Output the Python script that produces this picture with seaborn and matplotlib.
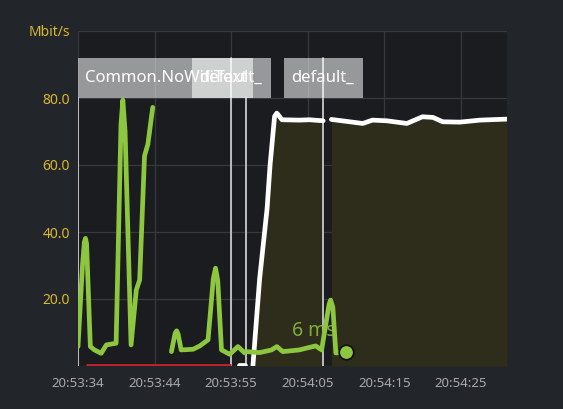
import numpy as np
import pandas as pd
import matplotlib
matplotlib.use("Agg")
import matplotlib.pyplot as plt
import seaborn as sns

# ---- data (seconds since 20:53:34) ----
green_seg = [0] * 18 + [1] * 27
green_t = [0, 0.6, 0.85, 1.0, 1.15, 1.65, 2.2, 3.1, 3.8, 5.1, 5.75, 6.0, 6.3, 7.1, 7.8, 8.25, 8.9, 9.35,
           10.0,
           12.5, 13.0, 13.2, 13.4, 13.8, 15.4, 16.3, 17.4, 18.1, 18.4, 18.7, 19.2, 20.3, 21.4, 22.3, 22.5,
           24.3, 25.9, 26.6, 27.4, 29.6, 31.8, 32.6, 33.6, 33.8, 34.1, 34.5, 35.8]
green_v = [5.8, 30.0, 37.0, 38.1, 36.5, 5.8, 4.8, 3.8, 6.3, 6.8, 72.0, 79.4, 70.0, 6.3, 22.7, 25.7, 62.7, 66.2,
           77.2,
           4.3, 9.8, 10.5, 9.5, 4.8, 5.0, 6.0, 7.8, 26.0, 29.2, 25.5, 4.8, 3.5, 5.8, 3.9, 4.3,
           4.0, 4.8, 5.8, 4.3, 4.8, 6.0, 4.8, 18.5, 19.7, 17.5, 3.9, 4.1]
green_seg = [0] * 19 + [1] * (len(green_t) - 19)

white_t = [21.5, 22.4,
           23.4, 24.3, 25.3, 25.7, 26.3, 26.6, 27.3, 29.6, 31.0, 32.8,
           33.9, 36.0, 38.1, 39.4, 41.3, 44.0, 46.1, 47.5, 48.8, 51.1, 53.8, 57.4]
white_v = [0.3, 0.3,
           0.0, 26.0, 47.0, 60.0, 74.5, 75.5, 73.5, 73.4, 73.5, 73.2,
           73.6, 73.0, 72.4, 73.4, 73.2, 72.4, 74.4, 74.2, 72.9, 72.8, 73.4, 73.7]
white_seg = [0] * 2 + [1] * 10 + [2] * 12

red_t = [1.05, 20.5]
red_v = [0.0, 0.0]

event_t = [0.0, 20.5, 22.5, 32.8]
event_top = [80, 92, 80, 92]

labels = ["Common.NoWifiText", "default_", "default_"]
label_left = [0.0, 15.2, 27.5]
label_right = [23.4, 25.8, 38.1]

tick_pos = [0, 10.25, 20.5, 30.75, 41.0, 51.25]
tick_labels = ["20:53:34", "20:53:44", "20:53:55", "20:54:05", "20:54:15", "20:54:25"]
ytick_pos = [0, 20, 40, 60, 80, 100]
ytick_labels = ["", "20.0", "40.0", "60.0", "80.0", "Mbit/s"]

latency_text = "6 ms"
last_t, last_v = green_t[-1], green_v[-1]

# ---- style ----
sns.set_theme(style="dark")
plt.rcParams["font.family"] = ["Noto Sans", "DejaVu Sans"]

BG = "#22252a"
AXBG = "#1b1c1f"
GREEN = "#8dc63f"
FILL = "#2e2c1b"
GRID = "#37393d"

fig = plt.figure(figsize=(5.63, 4.09), dpi=100, facecolor=BG)
ax = fig.add_axes([78 / 563, 1 - 366 / 409, (507 - 78) / 563, (366 - 31) / 409])
ax.set_facecolor(AXBG)

gdf = pd.DataFrame({"t": green_t, "v": green_v, "seg": green_seg})
wdf = pd.DataFrame({"t": white_t, "v": white_v, "seg": white_seg})

# fill under throughput (main segments)
for sid, part in wdf.groupby("seg"):
    if sid == 0:
        continue
    ax.fill_between(part["t"], 0, part["v"], color=FILL, lw=0, zorder=1)

# event lines
for t, top in zip(event_t, event_top):
    ax.plot([t, t], [0, top], color="#c9c9c9", lw=1.3, zorder=2)

# red segment
ax.plot(red_t, red_v, color="#c4212b", lw=3.5, zorder=3, solid_capstyle="butt")

# latency label
ax.text(31.6, 10.3, latency_text, color=GREEN, alpha=0.85, fontsize=14,
        ha="center", va="center", zorder=3)

# lines via seaborn
sns.lineplot(data=wdf, x="t", y="v", units="seg", ax=ax, color="white", lw=3.4,
             zorder=4, estimator=None, sort=False,
             solid_joinstyle="round", solid_capstyle="round")
sns.lineplot(data=gdf, x="t", y="v", units="seg", ax=ax, color=GREEN, lw=3.4,
             zorder=5, estimator=None, sort=False,
             solid_joinstyle="round", solid_capstyle="round")
ax.plot([last_t], [last_v], "o", ms=10.5, mfc=GREEN, mec="#111111", mew=1.3,
        zorder=6, clip_on=False)

# annotation boxes
for lab, l, r in zip(labels, label_left, label_right):
    ax.axvspan(l, r, ymin=0.80, ymax=0.92, facecolor="white", alpha=0.55,
               lw=0, zorder=7)
    ax.text(l + 1.0, 86, lab, color="white", fontsize=12, ha="left", va="center",
            zorder=8)

ax.set_xlim(0, 57.4)
ax.set_ylim(0, 100)
ax.set_xticks(tick_pos)
ax.set_xticklabels(tick_labels, color="#a9a9a9", fontsize=9.5)
ax.set_yticks(ytick_pos)
ax.set_yticklabels(ytick_labels, color="#d8b830", fontsize=10)
ax.tick_params(length=0, pad=6)
ax.tick_params(axis="x", pad=8)
ax.grid(True, color=GRID, lw=0.9)
ax.set_axisbelow(True)
for s in ax.spines.values():
    s.set_visible(False)
ax.set_xlabel("")
ax.set_ylabel("")

fig.savefig("out.png", dpi=100, facecolor=BG)
